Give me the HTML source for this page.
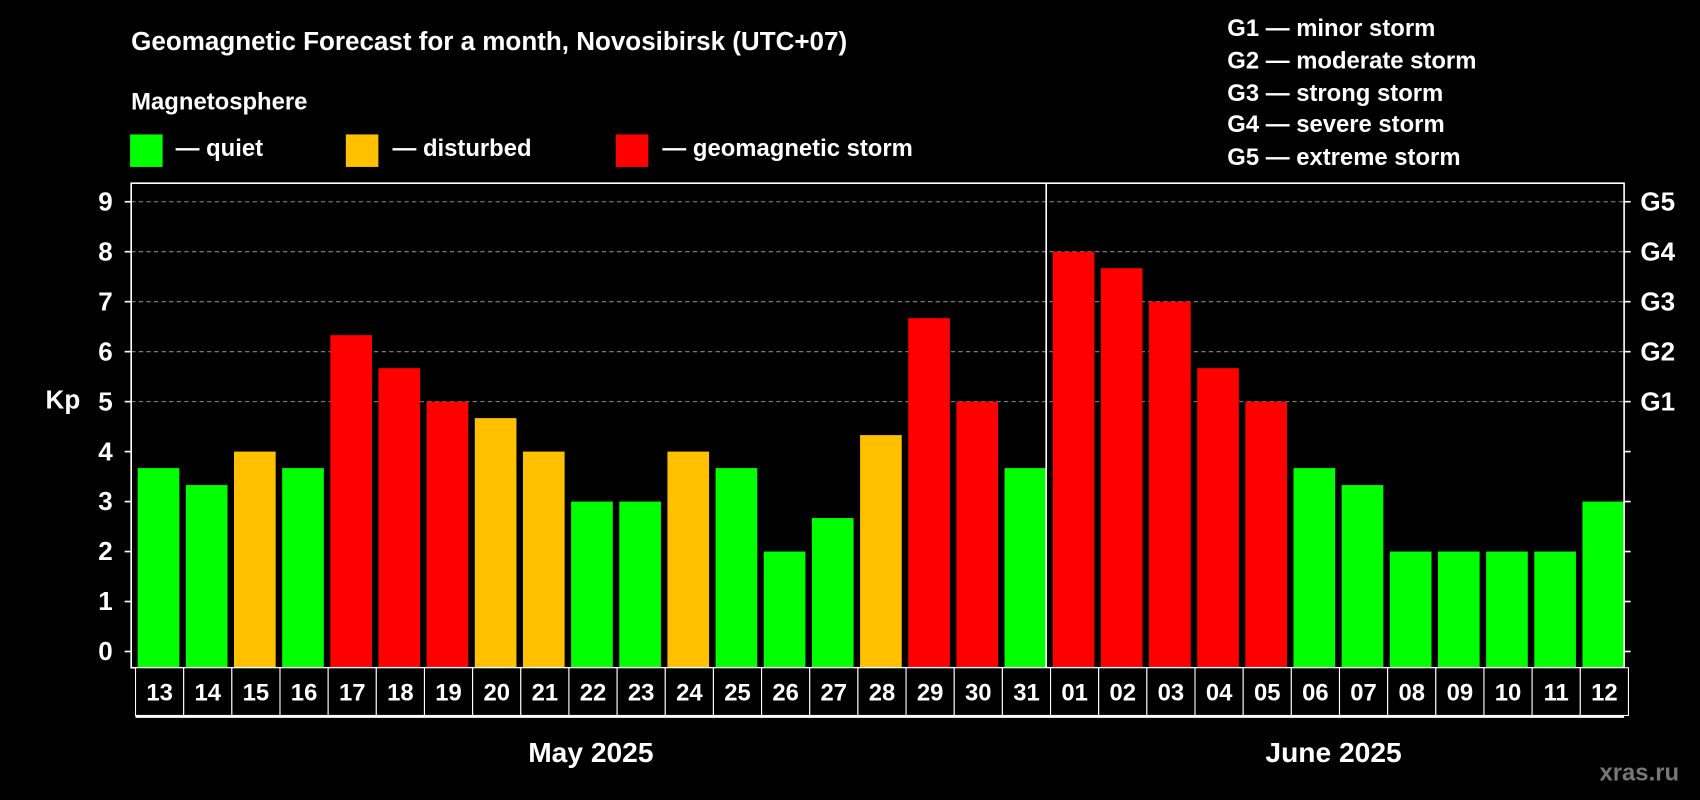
<!DOCTYPE html>
<html><head><meta charset="utf-8"><style>
html,body{margin:0;padding:0;background:#000;}
svg{display:block;font-family:"Liberation Sans",sans-serif;font-weight:bold;}
</style></head><body>
<svg id="chart" width="1700" height="800" viewBox="0 0 1568 738" preserveAspectRatio="none" xmlns="http://www.w3.org/2000/svg">
<rect x="0" y="0" width="1568" height="738" fill="#000"/>
<text x="121" y="46" fill="#fff" font-size="24">Geomagnetic Forecast for a month, Novosibirsk (UTC+07)</text>
<text x="121" y="101" fill="#fff" font-size="22">Magnetosphere</text>
<g><rect x="120" y="124" width="30" height="30" fill="#00ff00"/><text x="162" y="144" fill="#fff" font-size="22">— quiet</text></g>
<g><rect x="319" y="124" width="30" height="30" fill="#ffc000"/><text x="362" y="144" fill="#fff" font-size="22">— disturbed</text></g>
<g><rect x="568" y="124" width="30" height="30" fill="#ff0000"/><text x="611" y="144" fill="#fff" font-size="22">— geomagnetic storm</text></g>
<g fill="#fff" font-size="22">
<text x="1132" y="33">G1 — minor storm</text>
<text x="1132" y="63">G2 — moderate storm</text>
<text x="1132" y="93">G3 — strong storm</text>
<text x="1132" y="122">G4 — severe storm</text>
<text x="1132" y="152">G5 — extreme storm</text>
</g>
<text x="58" y="377" fill="#fff" font-size="24" text-anchor="middle">Kp</text>
<g id="grid"></g><g id="bars"></g><g id="axes"></g><g id="days"></g>
<text x="545" y="703" fill="#fff" font-size="26" text-anchor="middle">May 2025</text>
<text x="1230" y="703" fill="#fff" font-size="26" text-anchor="middle">June 2025</text>
<text x="1512" y="720" fill="#777" font-size="22" text-anchor="middle">xras.ru</text>
</svg>
<script>
const days = ["13","14","15","16","17","18","19","20","21","22","23","24","25","26","27","28","29","30","31","01","02","03","04","05","06","07","08","09","10","11","12"];
const kp = [3.67,3.33,4,3.67,6.33,5.67,5,4.67,4,3,3,4,3.67,2,2.67,4.33,6.67,5,3.67,8,7.67,7,5.67,5,3.67,3.33,2,2,2,2,3];
const yTicks = ["0","1","2","3","4","5","6","7","8","9"];
const gLabels = ["G1","G2","G3","G4","G5"];
const NS="http://www.w3.org/2000/svg";
const L=121,R=1498,T=169,B=616;
const step=(R-L)/days.length;
function y(v){return 601-v*46.1;}
function x(i){return L+i*step;}
function mk(tag,attrs,parent){const e=document.createElementNS(NS,tag);for(const k in attrs)e.setAttribute(k,attrs[k]);parent.appendChild(e);return e;}
const grid=document.getElementById('grid'),bars=document.getElementById('bars'),axes=document.getElementById('axes'),dg=document.getElementById('days');
for(let v=5;v<=9;v++){const l=mk('line',{x1:L,x2:R,y1:y(v),y2:y(v),stroke:'#888','stroke-dasharray':'4,3','stroke-width':1},grid);

}
kp.forEach((v,i)=>{const c=v>=5?'#ff0000':(v>=4?'#ffc000':'#00ff00');
const r=mk('rect',{x:x(i)+6,y:y(v),width:step-6,height:B-y(v),fill:c},bars);

});
const frame=mk('rect',{x:L,y:T,width:R-L,height:B-T,fill:'none',stroke:'#fff','stroke-width':1.5},axes);


const div=mk('line',{x1:x(19),x2:x(19),y1:T,y2:B,stroke:'#fff','stroke-width':1.5},axes);


yTicks.forEach((t,i)=>{const v=+t;
mk('line',{x1:L-6,x2:L,y1:y(v),y2:y(v),stroke:'#fff','stroke-width':1.5},axes);
mk('line',{x1:R,x2:R+6,y1:y(v),y2:y(v),stroke:'#fff','stroke-width':1.5},axes);
const tx=mk('text',{x:104,y:y(v)+8,fill:'#fff','font-size':24,'text-anchor':'end'},axes);tx.textContent=t;

});
gLabels.forEach((g,i)=>{const tx=mk('text',{x:1513,y:y(5+i)+8,fill:'#fff','font-size':24},axes);tx.textContent=g;

});
days.forEach((d,i)=>{const bx=mk('rect',{x:x(i)+4,y:B,width:step,height:44,fill:'#000',stroke:'#fff','stroke-width':1},dg);


const tx=mk('text',{x:x(i)+4+step/2,y:B+30,fill:'#fff','font-size':22,'text-anchor':'middle'},dg);tx.textContent=d;

});
const ul=mk('line',{x1:x(0)+4,x2:R,y1:B+45,y2:B+45,stroke:'#fff','stroke-width':2.5},dg);


</script>
</body></html>
